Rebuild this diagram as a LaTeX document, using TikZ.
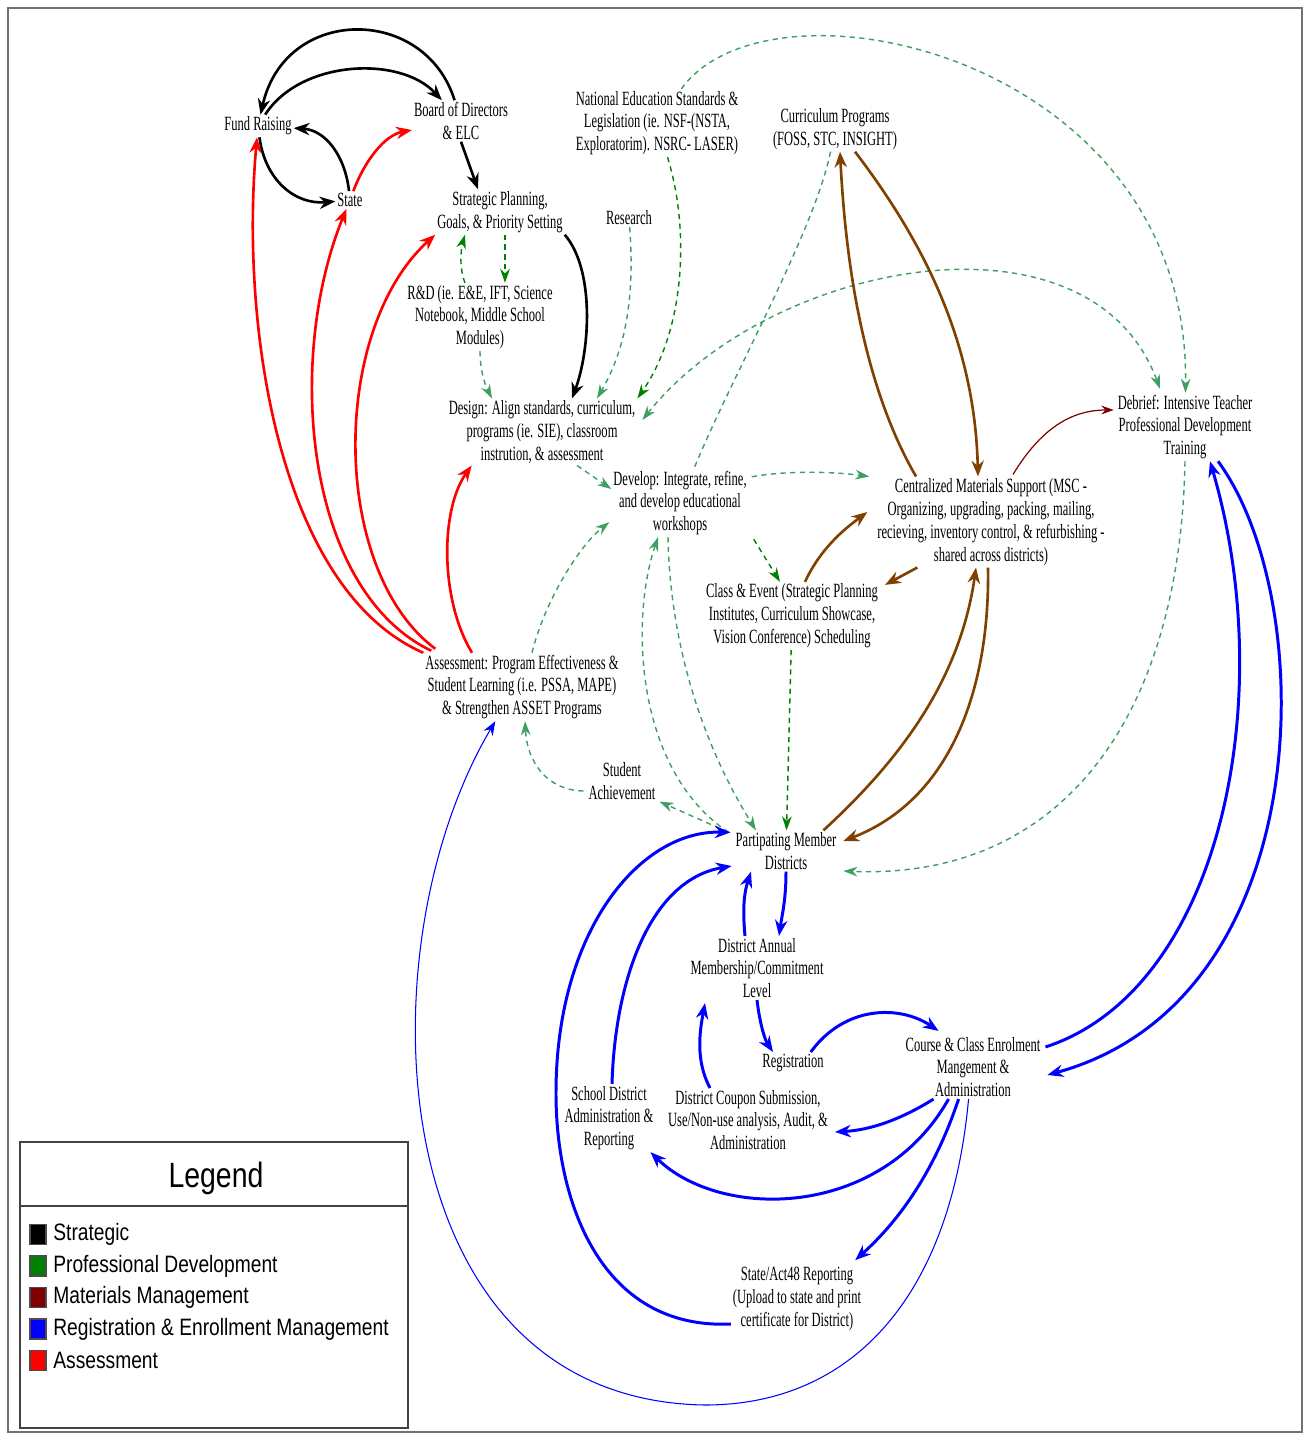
\documentclass[tikz,border=0pt]{standalone}
\usepackage{fontspec}
\setmainfont[FakeStretch=0.62]{Liberation Serif}
\newfontfamily\legfont[FakeStretch=0.81]{Liberation Sans}
\usetikzlibrary{calc,arrows.meta}
\definecolor{ProfGreen}{HTML}{008000}
\definecolor{ProfSea}{HTML}{3DA060}
\definecolor{MatBrown}{HTML}{804000}
\definecolor{MatRed}{HTML}{800000}
\definecolor{RegBlue}{HTML}{0000FF}
\definecolor{AsmRed}{HTML}{FF0000}
\definecolor{FrameGray}{HTML}{707070}

\begin{document}
\begin{tikzpicture}[x=0.02cm, y=-0.02cm,
  txt/.style={align=center, inner sep=1pt, font=\fontsize{11.5}{13}\selectfont},
  solidar/.style={line width=1.5pt, -{Stealth[length=9pt,width=7pt]}},
  stratar/.style={solidar, draw=black},
  asmar/.style={solidar, draw=AsmRed},
  matar/.style={solidar, draw=MatBrown},
  matthin/.style={draw=MatRed, line width=0.7pt, -{Stealth[length=7pt,width=5pt]}},
  regar/.style={solidar, draw=RegBlue, line width=1.7pt},
  regthin/.style={draw=RegBlue, line width=0.6pt, -{Stealth[length=8pt,width=6pt]}},
  pdline/.style={draw=ProfSea, line width=0.8pt, dash pattern=on 3pt off 2.5pt},
  pdar/.style={pdline, -{Stealth[length=8pt,width=5.5pt]}},
  pddark/.style={pdar, draw=ProfGreen},
  pdboth/.style={pdline, {Stealth[length=8pt,width=5.5pt]}-{Stealth[length=8pt,width=5.5pt]}}]

  % page frame
  \useasboundingbox (0,0) rectangle (1309,1439);
  \draw[FrameGray, line width=0.8pt] (8,8) rectangle (1302,1432);

  % strategic side
  \node[txt] (fund) at (258,126) {Fund Raising};
  \node[txt] (board) at (461,121) {Board of Directors\\\& ELC};
  \node[txt] (state) at (350,200) {State};
  \node[txt] (strat) at (500,212) {Strategic Planning,\\Goals, \& Priority Setting};
  \node[txt] (nes) at (657,123) {National Education Standards \&\\Legislation (ie. NSF-(NSTA,\\Exploratorim). NSRC- LASER)};
  \node[txt] (curr) at (835,129) {Curriculum Programs\\(FOSS, STC, INSIGHT)};
  \node[txt] (research) at (629,218) {Research};
  \node[txt] (rnd) at (480,317) {R\&D (ie. E\&E, IFT, Science\\Notebook, Middle School\\Modules)};
  \node[txt] (design) at (542,432) {Design: Align standards, curriculum,\\programs (ie. SIE), classroom\\instrution, \& assessment};
  \node[txt] (develop) at (680,503) {Develop: Integrate, refine,\\and develop educational\\workshops};
  \node[txt] (cms) at (991,522) {Centralized Materials Support (MSC -\\Organizing, upgrading, packing, mailing,\\recieving, inventory control, \& refurbishing -\\shared across districts)};
  \node[txt] (debrief) at (1185,427) {Debrief: Intensive Teacher\\Professional Development\\Training};
  \node[txt] (classev) at (792,616) {Class \& Event (Strategic Planning\\Institutes, Curriculum Showcase,\\Vision Conference) Scheduling};
  \node[txt] (assess) at (522,687) {Assessment: Program Effectiveness \&\\Student Learning (i.e. PSSA, MAPE)\\\& Strengthen ASSET Programs};
  \node[txt] (stach) at (622,781) {Student\\Achievement};
  \node[txt] (pmd) at (786,851) {Partipating Member\\Districts};
  % registration side
  \node[txt] (annual) at (757,968) {District Annual\\Membership/Commitment\\Level};
  \node[txt] (reg) at (793,1063) {Registration};
  \node[txt] (course) at (973,1067) {Course \& Class Enrolment\\Mangement \&\\Administration};
  \node[txt] (sdar) at (609,1118) {School District\\Administration \&\\Reporting};
  \node[txt] (coupon) at (748,1120) {District Coupon Submission,\\Use/Non-use analysis, Audit, \&\\Administration};
  \node[txt] (act48) at (797,1299) {State/Act48 Reporting\\(Upload to state and print\\certificate for District)};

  % strategic links
  \draw[stratar] (board) .. controls (425,5) and (285,5) .. (fund);
  \draw[stratar] (fund) .. controls (300,60) and (400,55) .. (board);
  \draw[stratar] (state) .. controls (345,155) and (325,130) .. (fund);
  \draw[stratar] (fund) .. controls (265,180) and (295,205) .. (state);
  \draw[stratar] (board.south) -- ($(strat.north)+(-22,0)$);
  \draw[stratar] (strat.south east) .. controls (595,270) and (590,350) .. ($(design.north)+(30,0)$);

  % assessment links
  \draw[asmar] (state) .. controls (365,160) and (385,135) .. (board);
  \draw[asmar] (assess.north west) .. controls (280,590) and (240,330) .. (fund);
  \draw[asmar] ($(assess.north west)+(8,-2)$) .. controls (305,590) and (285,360) .. (state);
  \draw[asmar] ($(assess.north west)+(12,-4)$) .. controls (330,570) and (330,330) .. (strat.south west);
  \draw[asmar] ($(assess.north)+(-50,0)$) .. controls (440,600) and (440,510) .. ($(design.south west)+(25,0)$);

  % professional development links
  \draw[pdar] (nes) .. controls (770,-35) and (1190,55) .. (debrief);
  \draw[pdboth] ($(design.east)+(5,-12)$) .. controls (770,260) and (1090,200) .. ($(debrief.north)+(-25,-4)$);
  \draw[pdline] (curr) .. controls (815,230) and (730,380) .. (develop);
  \draw[pddark] (nes) .. controls (690,230) and (685,330) .. (design.north east);
  \draw[pdar] (research) .. controls (635,300) and (625,350) .. ($(design.north)+(55,0)$);
  \draw[pdar] (rnd.south) .. controls (480,370) and (485,385) .. ($(design.north)+(-50,0)$);
  \draw[pddark] ($(rnd.north)+(-15,0)$) .. controls (458,265) and (462,245) .. ($(strat.south)+(-35,0)$);
  \draw[pddark] ($(strat.south)+(5,0)$) .. controls (505,255) and (505,265) .. ($(rnd.north)+(25,0)$);
  \draw[pdar] ($(design.south)+(35,0)$) -- ($(develop.west)+(0,-14)$);
  \draw[pdar] ($(develop.north east)+(3,8)$) .. controls (790,470) and (835,472) .. ($(cms.north west)+(-6,0)$);
  \draw[pddark] ($(develop.south east)+(5,2)$) -- ($(classev.north)+(-12,0)$);
  \draw[pddark] (classev) -- (pmd);
  \draw[pdar] ($(assess.north)+(10,0)$) .. controls (545,600) and (580,545) .. ($(develop.south west)+(-2,-15)$);
  \draw[pdar] ($(pmd.north west)+(-5,2)$) .. controls (635,770) and (630,620) .. ($(develop.south)+(-22,0)$);
  \draw[pdar] ($(develop.south)+(-12,0)$) .. controls (670,640) and (700,740) .. ($(pmd.north)+(-30,0)$);
  \draw[pdar] ($(pmd.north west)+(-5,2)$) -- ($(stach.south east)+(2,0)$);
  \draw[pdar] ($(stach.west)+(-3,10)$) .. controls (545,790) and (527,760) .. ($(assess.south)+(3,0)$);
  \draw[pdar] (debrief.south) .. controls (1180,720) and (1060,880) .. ($(pmd.east)+(5,20)$);

  % materials links
  \draw[matar] ($(cms.north)+(-75,0)$) .. controls (860,380) and (845,250) .. ($(curr.south)+(5,0)$);
  \draw[matar] ($(curr.south)+(20,0)$) .. controls (930,250) and (975,350) .. ($(cms.north)+(-13,0)$);
  \draw[matar] ($(classev.north)+(13,0)$) .. controls (822,545) and (850,525) .. ($(cms.west)+(-8,-10)$);
  \draw[matar] ($(cms.south west)+(42,0)$) -- ($(classev.north east)+(5,3)$);
  \draw[matar] ($(pmd.north east)+(-15,0)$) .. controls (900,760) and (960,680) .. ($(cms.south)+(-15,0)$);
  \draw[matar] ($(cms.south)+(-3,0)$) .. controls (990,690) and (950,800) .. ($(pmd.east)+(5,-10)$);
  \draw[matthin] ($(cms.north)+(22,-2)$) .. controls (1040,430) and (1070,410) .. ($(debrief.west)+(-2,-17)$);

  % registration links
  \draw[regar] (pmd.south) .. controls (786,900) and (782,915) .. ($(annual.north)+(22,0)$);
  \draw[regar] ($(annual.north)+(-12,0)$) .. controls (742,905) and (745,890) .. ($(pmd.south)+(-35,0)$);
  \draw[regar] (annual.south) .. controls (760,1025) and (765,1040) .. ($(reg.north)+(-20,0)$);
  \draw[regar] ($(coupon.north)+(-38,0)$) .. controls (695,1060) and (700,1030) .. ($(annual.south)+(-52,3)$);
  \draw[regar] ($(reg.north east)+(-15,0)$) .. controls (845,1005) and (900,1005) .. ($(course.north west)+(35,-4)$);
  \draw[regar] ($(course.south west)+(30,0)$) .. controls (900,1120) and (870,1130) .. ($(coupon.east)+(5,12)$);
  \draw[regar] ($(course.south west)+(45,0)$) .. controls (880,1220) and (720,1220) .. ($(sdar.south east)+(-5,0)$);
  \draw[regar] ($(course.south west)+(55,0)$) .. controls (935,1170) and (900,1220) .. ($(act48.north east)+(-8,-5)$);
  \draw[regthin] ($(course.south west)+(65,0)$) .. controls (950,1300) and (850,1405) .. (705,1405)
    .. controls (380,1400) and (360,950) .. ($(assess.south west)+(72,0)$);
  \draw[regar] ($(course.east)+(3,-20)$) .. controls (1220,990) and (1280,700) .. ($(debrief.south)+(25,0)$);
  \draw[regar] ($(debrief.south)+(33,0)$) .. controls (1320,600) and (1320,1000) .. ($(course.east)+(5,8)$);
  \draw[regar] ($(sdar.north)+(3,0)$) .. controls (615,980) and (650,880) .. ($(pmd.west)+(-2,15)$);
  \draw[regar] ($(act48.west)+(0,25)$) .. controls (600,1330) and (555,1200) .. (556,1090)
    .. controls (557,930) and (640,830) .. ($(pmd.north west)+(-3,2)$);

  % legend
  \draw[FrameGray!60!black, line width=0.8pt] (20,1142) rectangle (408,1428);
  \draw[FrameGray!60!black, line width=0.8pt] (20,1206) -- (408,1206);
  \node[font=\legfont\fontsize{20}{24}\selectfont] (legtitle) at (216,1178) {Legend};
  \foreach \col/\name [count=\i] in {black/Strategic, ProfGreen/Professional Development,
      MatRed/Materials Management, RegBlue/Registration \& Enrollment Management, AsmRed/Assessment} {
    \pgfmathsetmacro\yy{1203+31.5*\i}
    \filldraw[fill=\col, draw=black!70, line width=0.6pt] (30,\yy-10) rectangle (46,\yy+10);
    \node[anchor=west, inner sep=0pt, font=\legfont\fontsize{13.5}{16}\selectfont] (leg\i) at (53,\yy) {\name};
  }
\end{tikzpicture}
\end{document}
